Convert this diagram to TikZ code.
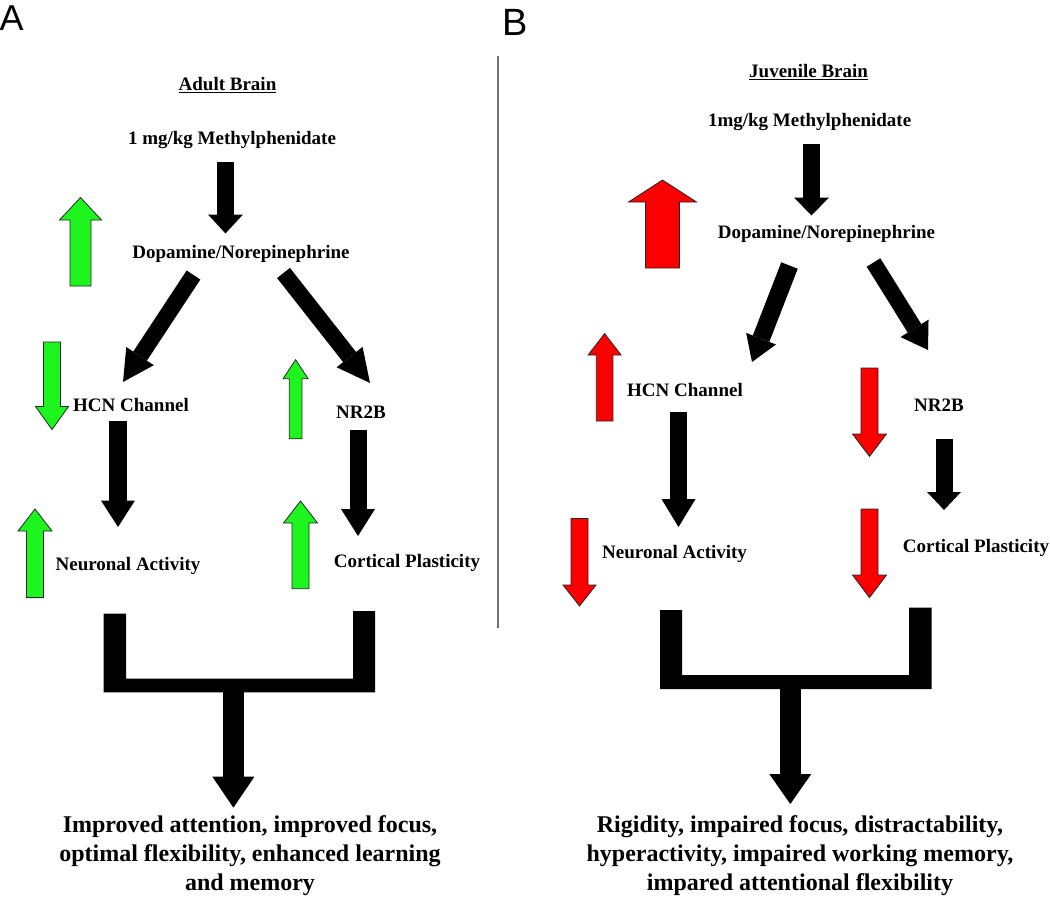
\documentclass[tikz,border=0pt]{standalone}
\usepackage{fontspec}
\setmainfont{Liberation Serif}
\newfontfamily\panelfont{Liberation Sans}
\usetikzlibrary{arrows.meta}
\definecolor{upgreen}{RGB}{30,245,30}
\definecolor{downred}{RGB}{250,0,0}
\definecolor{rulegray}{RGB}{112,112,112}

\begin{document}
\begin{tikzpicture}[x=1pt, y=-1pt,
  lbl/.style={font=\fontsize{19}{23}\selectfont\bfseries, inner sep=0pt},
  outtxt/.style={font=\fontsize{24}{29}\selectfont\bfseries, align=center, inner sep=0pt},
  panel/.style={font=\panelfont\fontsize{36}{40}\selectfont, inner sep=0pt, anchor=base west},
  blk/.style n args={3}{line width=#1pt, -{Triangle[length=#2pt, width=#3pt, line width=0pt]}},
  ind/.style={draw=black!85, line width=0.8pt, line join=miter}]
  \useasboundingbox (0,0) rectangle (1050,900);

  % panel letters and divider
  \node[panel] (pa) at (-0.5,30) {A};
  \node[panel, font=\panelfont\fontsize{38}{42}\selectfont] (pb) at (502,35) {B};
  \draw[rulegray, line width=2pt] (498,56) -- (498,628);

  % adult brain
  \node[lbl] (titleA) at (227.5,85) {\underline{Adult Brain}};
  \node[lbl] (methA) at (232,140) {1 mg/kg Methylphenidate};
  \node[lbl] (dopaA) at (241,254) {Dopamine/Norepinephrine};
  \node[lbl] (hcnA) at (131,405) {HCN Channel};
  \node[lbl] (nrA) at (361,412) {NR2B};
  \node[lbl] (neurA) at (128,566) {Neuronal Activity};
  \node[lbl] (cortA) at (407,563) {Cortical Plasticity};
  \node[outtxt] (outA) at (250,856) {Improved attention, improved focus,\\optimal flexibility, enhanced learning\\and memory};

  \coordinate (a1s) at (225.5,162);   \coordinate (a1e) at (225.5,233.5);
  \coordinate (a2s) at (193.5,275);   \coordinate (a2e) at (123,382);
  \coordinate (a3s) at (283.5,273);   \coordinate (a3e) at (370,383);
  \coordinate (a4s) at (118,421);     \coordinate (a4e) at (118,527);
  \coordinate (a5s) at (358,429.6);   \coordinate (a5e) at (358,536);
  \coordinate (a6s) at (233.4,690);   \coordinate (a6e) at (233.4,807.7);

  \draw[blk={17}{19}{35}] (a1s) -- (a1e);
  \draw[blk={16.4}{31}{33}] (a2s) -- (a2e);
  \draw[blk={16.4}{33}{33}] (a3s) -- (a3e);
  \draw[blk={17.3}{26.5}{34}] (a4s) -- (a4e);
  \draw[blk={17}{27}{34}] (a5s) -- (a5e);
  \fill (103.5,613.6) -- (126,613.6) -- (126,678.7) -- (353,678.7) -- (353,611)
    -- (375,611) -- (375,692.3) -- (103.5,692.3) -- cycle;
  \draw[blk={20.6}{31}{42}] (a6s) -- (a6e);

  % juvenile brain
  \node[lbl] (titleB) at (808.6,72.3) {\underline{Juvenile Brain}};
  \node[lbl] (methB) at (809.6,122) {1mg/kg Methylphenidate};
  \node[lbl] (dopaB) at (826.5,234) {Dopamine/Norepinephrine};
  \node[lbl] (hcnB) at (685,390) {HCN Channel};
  \node[lbl] (nrB) at (939,405) {NR2B};
  \node[lbl] (neurB) at (674.6,554) {Neuronal Activity};
  \node[lbl] (cortB) at (976,548) {Cortical Plasticity};
  \node[outtxt] (outB) at (800,856) {Rigidity, impaired focus, distractability,\\hyperactivity, impaired working memory,\\impared attentional flexibility};

  \coordinate (b1s) at (811.5,144);   \coordinate (b1e) at (811.5,215.5);
  \coordinate (b2s) at (789.5,265.5); \coordinate (b2e) at (752,362);
  \coordinate (b3s) at (873.5,262.5); \coordinate (b3e) at (928,350);
  \coordinate (b4s) at (678.5,412);   \coordinate (b4e) at (678.5,527);
  \coordinate (b5s) at (944,438.8);   \coordinate (b5e) at (944,510);
  \coordinate (b6s) at (790.3,687);   \coordinate (b6e) at (790.3,804);

  \draw[blk={17}{18}{35}] (b1s) -- (b1e);
  \draw[blk={17.7}{25}{32}] (b2s) -- (b2e);
  \draw[blk={16}{25.5}{33}] (b3s) -- (b3e);
  \draw[blk={17}{28}{34}] (b4s) -- (b4e);
  \draw[blk={17}{18}{34}] (b5s) -- (b5e);
  \fill (660,610) -- (682,610) -- (682,675) -- (909,675) -- (909,607.5)
    -- (931.6,607.5) -- (931.6,689) -- (660,689) -- cycle;
  \draw[blk={21.4}{30}{42}] (b6s) -- (b6e);

  % up/down indicators: colour/x/tail/head base/tip/half shaft/half head
  \foreach \c/\x/\ya/\yb/\yc/\s/\h in {
      upgreen/80.5/286/220/197.5/10.5/21,
      upgreen/52/342/406.5/429.6/8.5/16.5,
      upgreen/35/597.6/531/509/8.5/17,
      upgreen/295.6/438.8/378.7/359.7/6.3/12.5,
      upgreen/300.5/588.7/523/501/8.5/17,
      downred/662.5/268/202/180/17/34,
      downred/604.6/421/355/333.6/8.3/16.5,
      downred/579.5/518.5/585/606/8.5/16.5,
      downred/869.5/368/434/456.4/8.5/17,
      downred/869.5/509/575/597.6/8.5/17}
    \filldraw[ind, fill=\c] (\x-\s,\ya) -- (\x-\s,\yb) -- (\x-\h,\yb) -- (\x,\yc)
      -- (\x+\h,\yb) -- (\x+\s,\yb) -- (\x+\s,\ya) -- cycle;
\end{tikzpicture}
\end{document}
